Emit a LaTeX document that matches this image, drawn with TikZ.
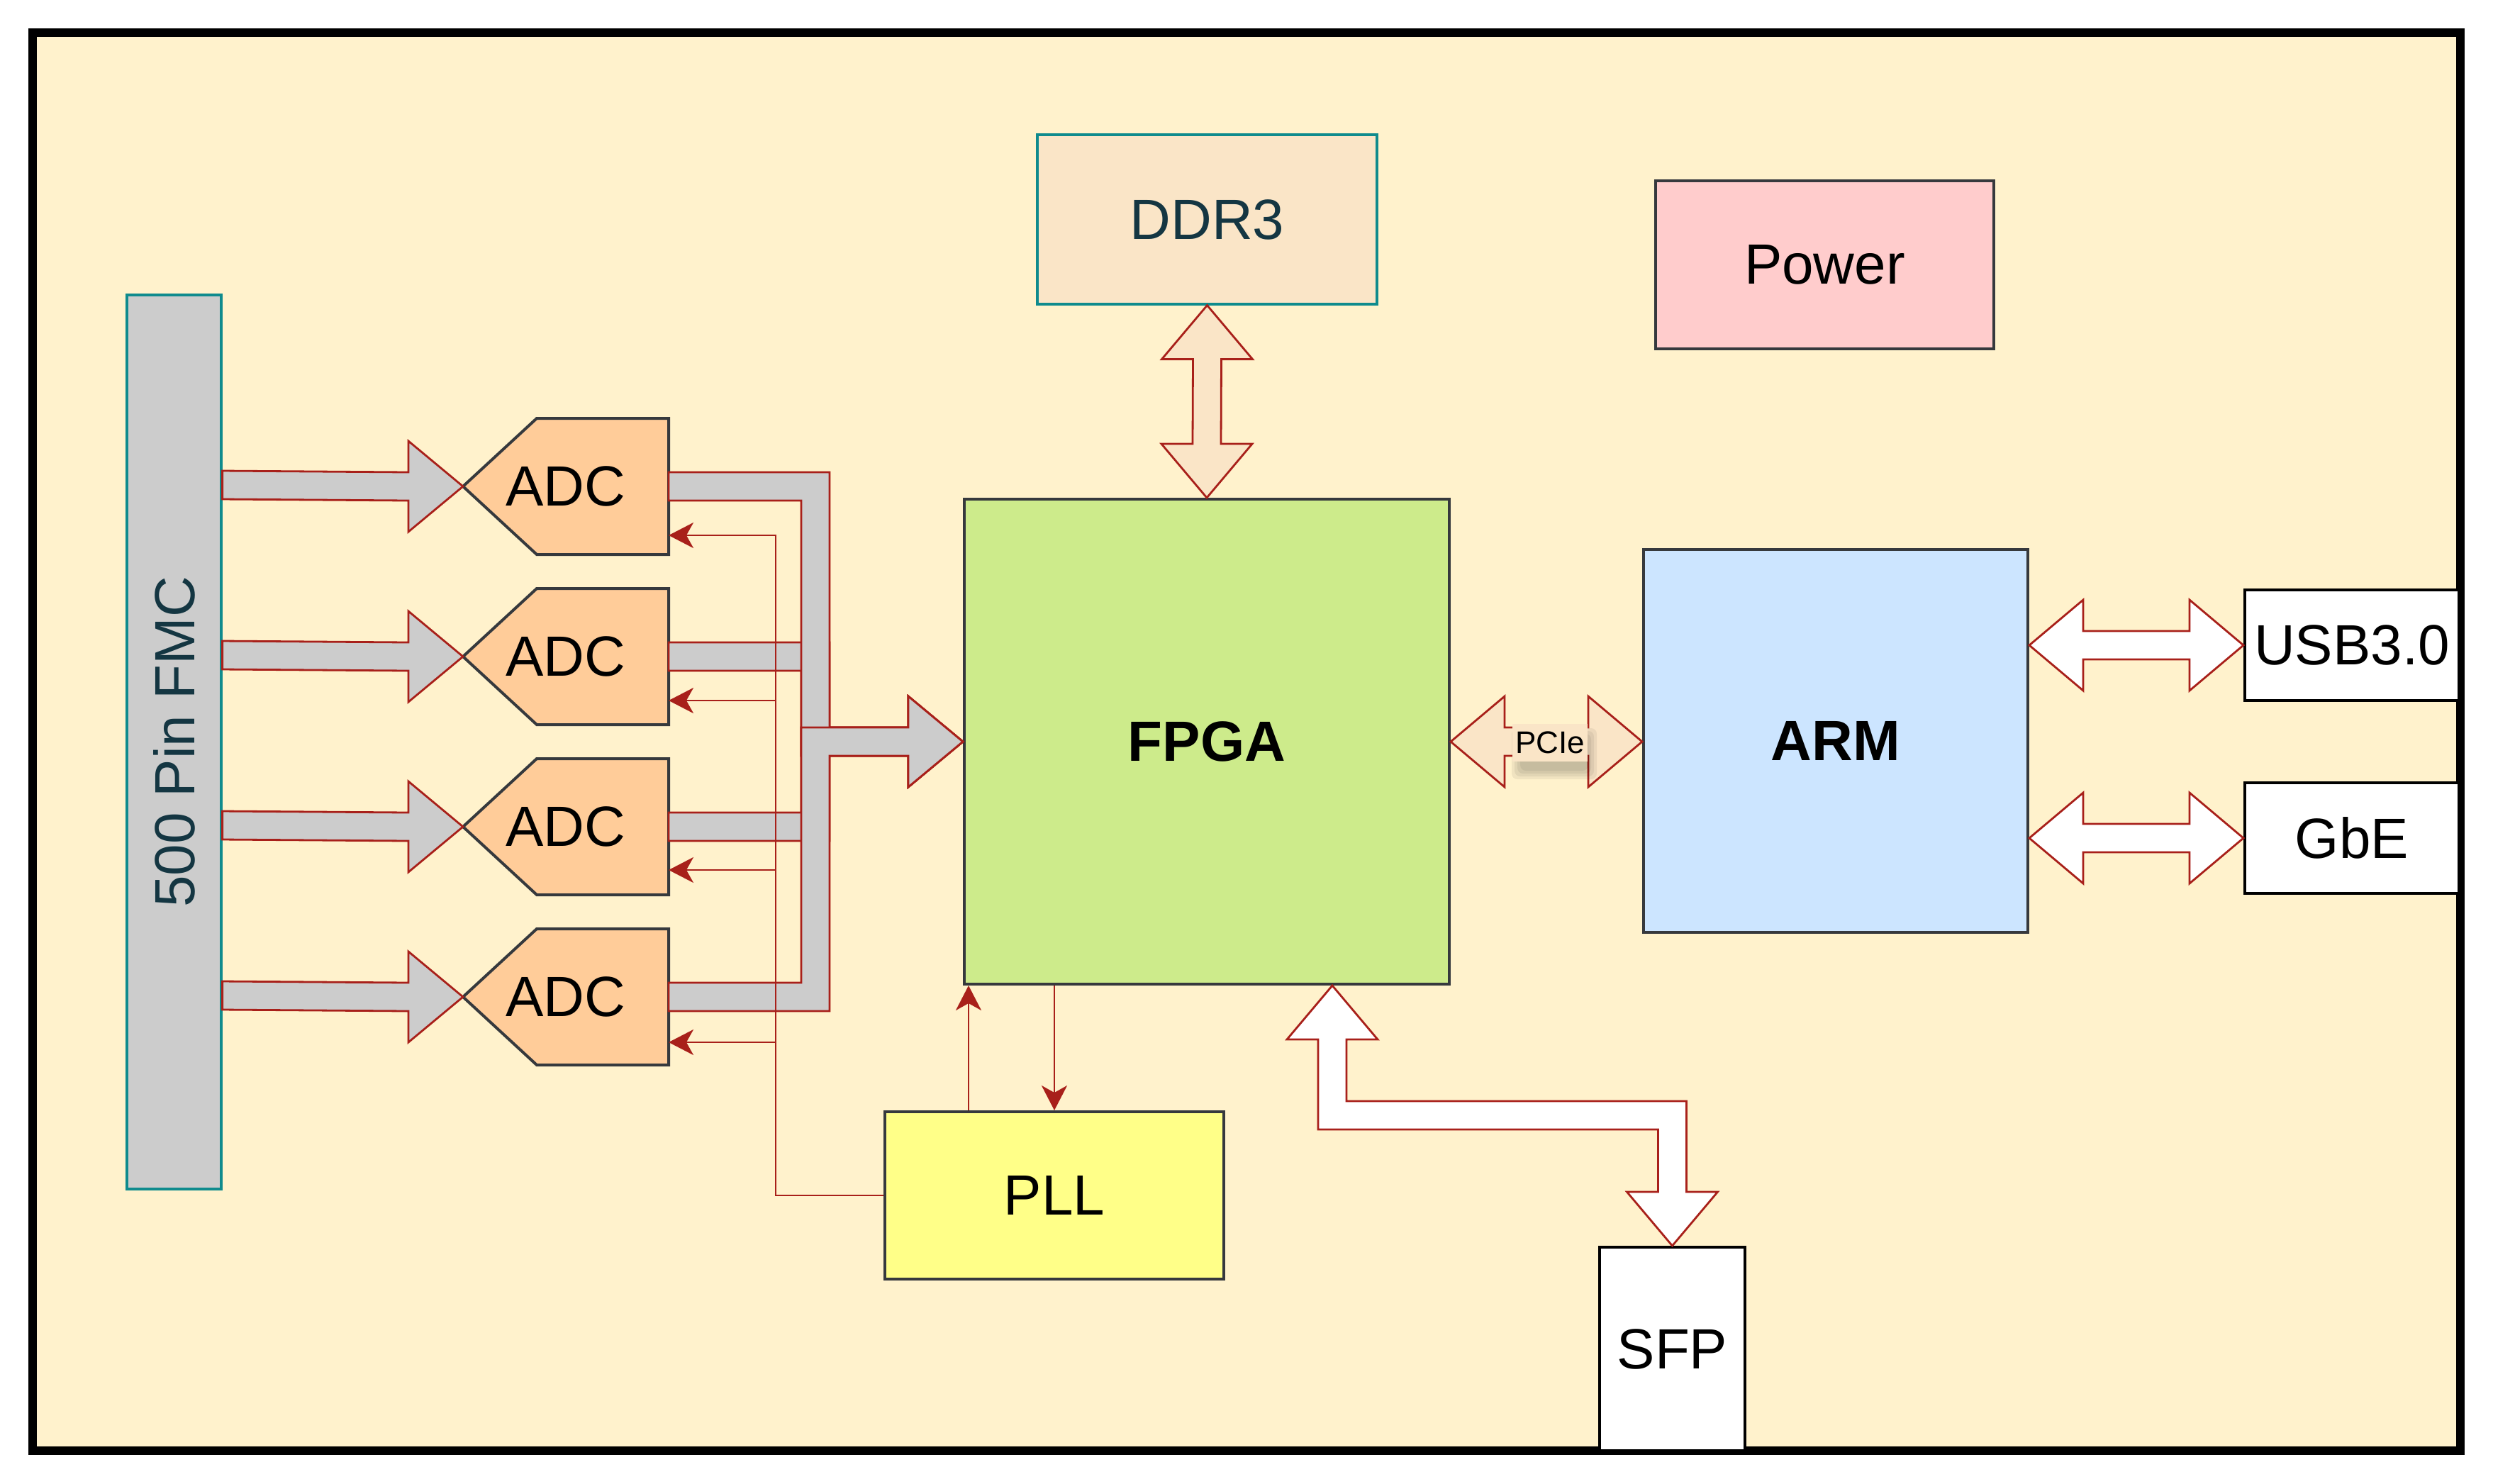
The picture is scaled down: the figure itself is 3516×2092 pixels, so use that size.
\documentclass[tikz,border=0pt]{standalone}
\usepackage{fontspec}
\setmainfont{Liberation Sans}
\usetikzlibrary{calc,fit,arrows.meta}
\definecolor{bgc}{HTML}{FFF2CC}
\definecolor{fmcgray}{HTML}{CCCCCC}
\definecolor{tealc}{HTML}{0F8B8D}
\definecolor{darkteal}{HTML}{143642}
\definecolor{peach}{HTML}{FAE5C7}
\definecolor{redc}{HTML}{A8201A}
\definecolor{adcfill}{HTML}{FFCC99}
\definecolor{darkstroke}{HTML}{36393D}
\definecolor{fpgafill}{HTML}{CDEB8B}
\definecolor{armfill}{HTML}{CCE5FF}
\definecolor{powerfill}{HTML}{FFCCCC}
\definecolor{pllfill}{HTML}{FFFF88}
\tikzset{
  bigfont/.style={font=\fontsize{20}{24}\selectfont},
  boldfont/.style={font=\fontsize{20}{24}\selectfont\bfseries},
  lbl/.style={inner sep=0pt, bigfont},
  boxs/.style={inner sep=0pt, line width=1pt, draw=darkstroke},
  tealbox/.style={inner sep=0pt, line width=0.8pt, draw=tealc},
  extbox/.style={inner sep=0pt, line width=1pt, draw=black, fill=white},
  adcbox/.style={inner sep=0pt, outer sep=0pt, minimum width=72.5pt, minimum height=48pt},
  adcshape/.style={fill=adcfill, draw=darkstroke, line width=1pt},
  inarrow/.style={fill=fmcgray, draw=redc, line width=0.7pt},
  busarrow/.style={fill=fmcgray, draw=redc, line width=0.7pt},
  flexp/.style={fill=peach, draw=redc, line width=0.7pt},
  flexw/.style={fill=white, draw=redc, line width=0.7pt},
  clk/.style={draw=redc, line width=0.7pt, -{Stealth[length=8.75pt,width=9pt,inset=2.5pt]}}
}
\newcommand\hdflex[3]{%
  \draw[#3] (#1) -- ++(76,-64) -- ++(0,44) -- ($(#2)+(-76,-20)$) -- ++(0,-44) -- (#2)
    -- ++(-76,64) -- ++(0,-44) -- ($(#1)+(76,20)$) -- ++(0,44) -- cycle;}
\newcommand\vdflex[3]{%
  \draw[#3] (#1) -- ++(-64,76) -- ++(44,0) -- ($(#2)+(-20,-76)$) -- ++(-44,0) -- (#2)
    -- ++(64,-76) -- ++(-44,0) -- ($(#1)+(20,76)$) -- ++(44,0) -- cycle;}
\begin{document}
\begin{tikzpicture}[x=0.25pt,y=-0.25pt]
\useasboundingbox (0,0) rectangle (3516,2092);
\fill[white] (0,0) rectangle (3516,2092);
\draw[line width=3pt, fill=bgc] (46,46) rectangle (3470,2046);

% boxes
\node[tealbox, fill=fmcgray, fit={(179,416) (312,1677)}] (fmc) {};
\node[lbl, rotate=90, text=darkteal] (fmct) at (fmc.center) {500 Pin FMC};
\node[tealbox, fill=peach, fit={(1463,190) (1942,429)}] (ddr) {};
\node[lbl, text=darkteal] (ddrt) at (ddr.center) {DDR3};
\node[boxs, fill=powerfill, fit={(2335,255) (2812,492)}] (power) {};
\node[lbl] (powert) at (power.center) {Power};
\node[boxs, fill=fpgafill, fit={(1360,704) (2044,1388)}] (fpga) {};
\node[lbl, boldfont] (fpgat) at (fpga.center) {FPGA};
\node[boxs, fill=armfill, fit={(2318,775) (2860,1315)}] (arm) {};
\node[lbl, boldfont] (armt) at (arm.center) {ARM};
\node[extbox, fit={(3166,832) (3468,988)}] (usb) {};
\node[lbl] (usbt) at (usb.center) {USB3.0};
\node[extbox, fit={(3166,1104) (3468,1260)}] (gbe) {};
\node[lbl] (gbet) at (gbe.center) {GbE};
\node[boxs, fill=pllfill, fit={(1248,1568) (1726,1804)}] (pll) {};
\node[lbl] (pllt) at (pll.center) {PLL};
\node[extbox, fit={(2256,1759) (2461,2046)}] (sfp) {};
\node[lbl] (sfpt) at (sfp.center) {SFP};

% ADCs
\foreach \i/\yy in {1/686,2/926,3/1166,4/1406}{
  \node[adcbox] (adc\i) at (798,\yy) {};
  \draw[adcshape] (adc\i.west) -- ($(adc\i.north west)+(104,0)$) -- (adc\i.north east)
     -- (adc\i.south east) -- ($(adc\i.south west)+(104,0)$) -- cycle;
  \node[lbl] (adc\i t) at (adc\i.center) {ADC};
}

% input arrows FMC -> ADC
\foreach \i in {1,2,3,4}{
  \draw[inarrow] ($(fmc.east |- adc\i.west)+(0,-22)$) -- ($(adc\i.west)+(-77,-20)$) -- ++(0,-44)
    -- (adc\i.west) -- ++(-77,64) -- ++(0,-44) -- ($(fmc.east |- adc\i.west)+(0,18)$) -- cycle;
}

% bus arrows ADC -> FPGA
\coordinate (busx) at (1150,0);
\foreach \i/\s in {2/1,3/-1,1/1,4/-1}{
  \draw[busarrow] ($(adc\i.east)+(0,-20*\s)$) -- ($(busx |- adc\i.east)+(20,-20*\s)$)
    -- ($(busx |- fpga.west)+(20,-20*\s)$) -- ($(fpga.west)+(-77,-20*\s)$) -- ++(0,-44*\s)
    -- (fpga.west) -- ++(-77,64*\s) -- ++(0,-44*\s) -- ($(busx |- fpga.west)+(-20,20*\s)$)
    -- ($(busx |- adc\i.east)+(-20,20*\s)$) -- ($(adc\i.east)+(0,20*\s)$) -- cycle;
}

% DDR3 <-> FPGA
\vdflex{ddr.south}{fpga.north}{flexp}
% PCIe
\hdflex{fpga.east}{arm.west |- fpga.east}{flexp}
\coordinate (pc) at ($(fpga.east)!0.5!(arm.west |- fpga.east)+(5,1)$);
% soft shadow of the label
\foreach \g in {0,4,8,12}{
  \fill[black, opacity=0.06, rounded corners=2pt] ($(pc)+(-46+4-\g,-22+14-\g)$) rectangle ($(pc)+(50+4+\g,26+14+\g)$);
}
\node[fill=peach, font=\fontsize{11}{13}\selectfont, inner xsep=1pt, inner ysep=0pt,
  minimum height=13.25pt] (pcie) at (pc) {PCIe};
% USB, GbE
\hdflex{arm.east |- usb.west}{usb.west}{flexw}
\hdflex{arm.east |- gbe.west}{gbe.west}{flexw}
% SFP
\coordinate (t1) at ($(fpga.south west)+(521,0)$);
\coordinate (t2) at (sfp.north);
\draw[flexw] (t1) -- ++(64,76) -- ++(-44,0) -- ($(t1)+(20,163)$) -- ($(t2 |- t1)+(20,163)$)
  -- ($(t2)+(20,-76)$) -- ++(44,0) -- (t2) -- ++(-64,-76) -- ++(44,0)
  -- ($(t2 |- t1)+(-20,203)$) -- ($(t1)+(-20,203)$) -- ($(t1)+(-20,76)$) -- ++(-44,0) -- cycle;

% PLL <-> FPGA
\coordinate (pu) at ($(pll.north west)+(120,0)$);
\draw[clk] (pu) -- (pu |- fpga.south);
\coordinate (pd) at ($(fpga.south west)+(129,0)$);
\draw[clk] (pd) -- (pd |- pll.north);

% clock lines PLL -> ADCs
\coordinate (clkx) at (1094,0);
\coordinate (c1) at ($(adc1.east)+(0,69)$);
\coordinate (c2) at ($(adc2.east)+(0,62)$);
\coordinate (c3) at ($(adc3.east)+(0,61)$);
\coordinate (c4) at ($(adc4.east)+(0,64)$);
\draw[clk] (pll.west) -| (clkx |- c1) -- (c1);
\draw[clk] (clkx |- c2) -- (c2);
\draw[clk] (clkx |- c3) -- (c3);
\draw[clk] (clkx |- c4) -- (c4);
\end{tikzpicture}
\end{document}
